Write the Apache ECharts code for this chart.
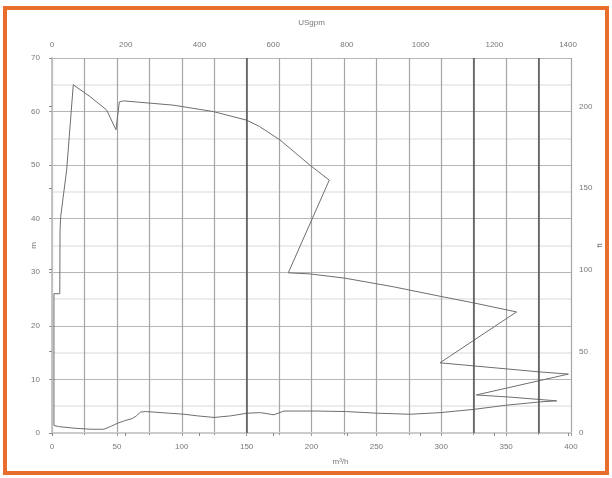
<!DOCTYPE html>
<html><head><meta charset="utf-8">
<script src="https://cdn.jsdelivr.net/npm/echarts@6/dist/echarts.min.js"></script>
<style>
html,body{margin:0;padding:0;background:#fff;}
#frame{position:absolute;left:3px;top:6px;width:598px;height:461px;border:4px solid #E96D2C;}
#c{position:absolute;left:0;top:0;width:612px;height:478px;}
</style></head>
<body>
<div id="frame"></div>
<div id="c"></div>
<script>
// Data
const flowM3h = [1.5,1.5,5,17,30,40,45,50.3,56,61.9,65,68.3,72,78.6,90,101.7,112,124.9,137.7,150.5,160.8,171,178.8,190,204.5,227,250,276,299,324.7,350.4,376,389,353,327,398,376,299,358,324.7,301.6,263,225.8,198.8,182.1,213.7,198.8,175.7,160,150,124.3,93.5,55,51.9,49.3,42.1,29.3,16.4,11.3,6.7,6.2,6,1.5];
const headM   = [26,1.4,1.2,0.9,0.7,0.7,1.2,1.8,2.3,2.7,3.2,3.9,4.0,3.9,3.7,3.5,3.2,2.9,3.2,3.7,3.8,3.4,4.1,4.1,4.1,4.0,3.7,3.5,3.8,4.4,5.2,5.8,6.0,6.7,7.1,11.0,11.4,13.1,22.6,24.3,25.4,27.3,28.9,29.7,29.9,47.2,50.0,54.7,57.2,58.4,60.0,61.2,62.0,61.8,56.6,60.3,62.8,65.0,49.1,40.4,37.9,26,26];
const markFlows = [150,325,375];
const bottomTicks = {min:0,max:400,interval:50};
const leftTicks = {min:0,max:70,interval:10};
const topTicks = {min:0,max:1408,interval:200};
const rightTicks = {min:0,max:229.66,interval:50};

const lbl = {color:'#777',fontSize:8,fontFamily:'Liberation Sans, Arial'};
const plain = v => String(v);
const chart = echarts.init(document.getElementById('c'));
chart.setOption({
  animation:false,
  grid:{left:52,right:41,top:58,bottom:45,containLabel:false,outerBoundsMode:'none'},
  xAxis:[
    {type:'value',position:'bottom',min:bottomTicks.min,max:bottomTicks.max,interval:bottomTicks.interval,
     name:'m³/h',nameLocation:'middle',nameGap:25,nameMoveOverlap:false,
     nameTextStyle:Object.assign({},lbl,{padding:[0,0,0,58]}),
     axisLine:{show:true,lineStyle:{color:'#bbb',width:1.5}},
     axisTick:{show:true,length:3,lineStyle:{color:'#999'}},
     axisLabel:Object.assign({margin:10,formatter:plain},lbl),
     splitLine:{show:true,lineStyle:{color:'#a5a5a5',width:1.2}},
     minorTick:{show:true,splitNumber:2,length:2,lineStyle:{color:'#999'}},
     minorSplitLine:{show:true,lineStyle:{color:'#a5a5a5',width:1.2}}},
    {type:'value',position:'top',min:topTicks.min,max:topTicks.max,interval:topTicks.interval,
     name:'USgpm',nameLocation:'middle',nameGap:31,nameMoveOverlap:false,nameTextStyle:lbl,
     axisLine:{show:true,lineStyle:{color:'#ccc',width:2}},
     axisTick:{show:true,length:3,inside:true,lineStyle:{color:'#888'}},
     axisLabel:Object.assign({margin:9,showMaxLabel:false,formatter:plain},lbl),
     splitLine:{show:false}}
  ],
  yAxis:[
    {type:'value',position:'left',min:leftTicks.min,max:leftTicks.max,interval:leftTicks.interval,
     name:'m',nameLocation:'middle',nameGap:14,nameRotate:90,nameMoveOverlap:false,nameTextStyle:lbl,
     axisLine:{show:true,lineStyle:{color:'#999',width:1.5}},
     axisTick:{show:true,length:3,lineStyle:{color:'#999'}},
     axisLabel:Object.assign({margin:12,formatter:plain},lbl),
     splitLine:{show:true,lineStyle:{color:'#b5b5b5',width:1.2}},
     minorTick:{show:false,splitNumber:2},
     minorSplitLine:{show:true,lineStyle:{color:'#e6e6e6',width:1.5}}},
    {type:'value',position:'right',min:rightTicks.min,max:rightTicks.max,interval:rightTicks.interval,
     name:'ft',nameLocation:'middle',nameGap:25,nameRotate:90,nameMoveOverlap:false,nameTextStyle:lbl,
     axisLine:{show:true,lineStyle:{color:'#ccc',width:1.5}},
     axisTick:{show:true,length:3,inside:true,lineStyle:{color:'#888'}},
     axisLabel:Object.assign({margin:8,showMaxLabel:false,formatter:plain},lbl),
     splitLine:{show:false}}
  ],
  series:[{
    type:'line',xAxisIndex:0,yAxisIndex:0,
    data:flowM3h.map((x,i)=>[x,headM[i]]),
    showSymbol:false,symbol:'none',smooth:false,
    lineStyle:{color:'#6e6e6e',width:1},
    markLine:{silent:true,symbol:'none',label:{show:false},
      lineStyle:{color:'#555',width:1.5,type:'solid'},
      data:markFlows.map(v=>({xAxis:v}))}
  }]
});
</script>
</body></html>
